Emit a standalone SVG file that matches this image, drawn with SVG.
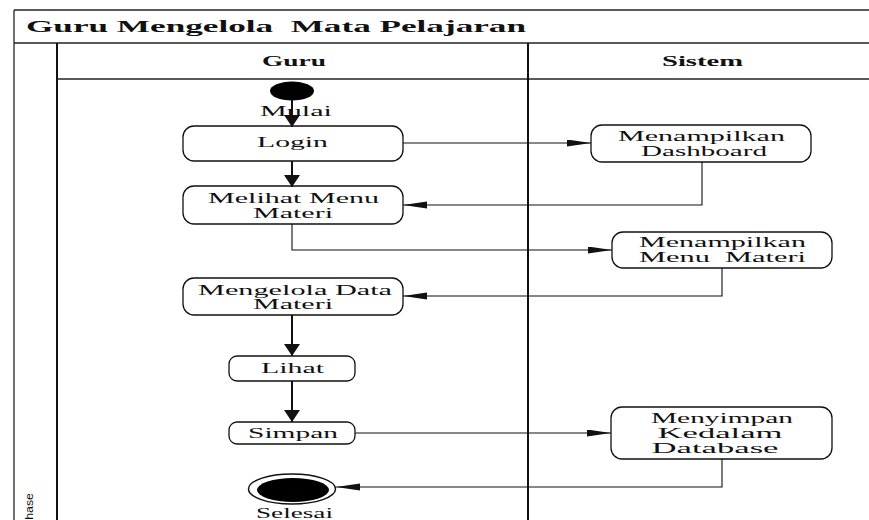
<svg xmlns="http://www.w3.org/2000/svg" width="869" height="520" viewBox="0 0 869 520">
<style>
.frame{fill:none;stroke:#222;stroke-width:1.3}
.div{fill:none;stroke:#111;stroke-width:2}
.box{fill:#fff;stroke:#111;stroke-width:1.3}
.t{font-family:"Liberation Serif",serif;font-size:15px;fill:#111;text-anchor:middle;white-space:pre}
.h{font-family:"Liberation Serif",serif;font-weight:bold;fill:#111;white-space:pre}
.thin{fill:none;stroke:#111;stroke-width:1.1;marker-end:url(#thinArrow)}
.bold{fill:none;stroke:#111;stroke-width:2;marker-end:url(#boldArrow)}
</style>
<defs>
<marker id="thinArrow" markerUnits="userSpaceOnUse" markerWidth="26" markerHeight="8" refX="24" refY="3.5" orient="auto">
<path d="M0,0 L24,3.5 L0,7 z" fill="#111"/>
</marker>
<marker id="boldArrow" markerUnits="userSpaceOnUse" markerWidth="14" markerHeight="18" refX="12" refY="8" orient="auto">
<path d="M0,0 L12,8 L0,16 z" fill="#111"/>
</marker>
</defs>
<rect width="869" height="520" fill="#fff"/>
<g id="frame">
<line class="frame" x1="14" y1="10" x2="869" y2="10"/>
<line class="frame" x1="14" y1="10" x2="14" y2="520"/>
<line class="frame" x1="14" y1="43" x2="869" y2="43"/>
<line class="div" x1="57" y1="43" x2="57" y2="520"/>
<line class="frame" x1="57" y1="79" x2="869" y2="79"/>
<line class="div" x1="528" y1="43" x2="528" y2="520"/>
<text class="h" x="26" y="32" font-size="17" textLength="500" lengthAdjust="spacingAndGlyphs">Guru Mengelola  Mata Pelajaran</text>
<text class="h" x="262" y="66" font-size="14" textLength="64" lengthAdjust="spacingAndGlyphs">Guru</text>
<text class="h" x="662" y="66" font-size="14" textLength="81" lengthAdjust="spacingAndGlyphs">Sistem</text>
<text transform="translate(33,528) rotate(-90)" font-family="Liberation Sans,sans-serif" font-size="11" fill="#111" textLength="35" lengthAdjust="spacingAndGlyphs">Phase</text>
</g>
<g id="start">
<ellipse cx="292" cy="91" rx="22" ry="9.5" fill="#000"/>
<text class="t" x="296" y="116" textLength="72" lengthAdjust="spacingAndGlyphs">Mulai</text>
</g>
<g id="login">
<rect class="box" x="183" y="126" width="220" height="35" rx="11"/>
<text class="t" x="292.5" y="147" textLength="71" lengthAdjust="spacingAndGlyphs">Login</text>
</g>
<g id="melihat">
<rect class="box" x="183" y="186" width="220" height="38" rx="11"/>
<text class="t" x="293.5" y="203" textLength="171" lengthAdjust="spacingAndGlyphs">Melihat Menu</text>
<text class="t" x="293" y="218" textLength="80" lengthAdjust="spacingAndGlyphs">Materi</text>
</g>
<g id="dashboard">
<rect class="box" x="591" y="125" width="220" height="37" rx="11"/>
<text class="t" x="701.5" y="141" textLength="167" lengthAdjust="spacingAndGlyphs">Menampilkan</text>
<text class="t" x="704" y="156" textLength="126" lengthAdjust="spacingAndGlyphs">Dashboard</text>
</g>
<g id="menumateri">
<rect class="box" x="612" y="232" width="220" height="36" rx="11"/>
<text class="t" x="722.5" y="247" textLength="167" lengthAdjust="spacingAndGlyphs">Menampilkan</text>
<text class="t" x="722.5" y="262" textLength="167" lengthAdjust="spacingAndGlyphs">Menu  Materi</text>
</g>
<g id="mengelola">
<rect class="box" x="183" y="278" width="220" height="37" rx="11"/>
<text class="t" x="295" y="295" textLength="194" lengthAdjust="spacingAndGlyphs">Mengelola Data</text>
<text class="t" x="293" y="309" textLength="80" lengthAdjust="spacingAndGlyphs">Materi</text>
</g>
<g id="lihat">
<rect class="box" x="229" y="356" width="126" height="25" rx="8"/>
<text class="t" x="292.5" y="373" textLength="63" lengthAdjust="spacingAndGlyphs">Lihat</text>
</g>
<g id="simpan">
<rect class="box" x="229" y="422" width="126" height="22" rx="8"/>
<text class="t" x="293" y="438" textLength="90" lengthAdjust="spacingAndGlyphs">Simpan</text>
</g>
<g id="menyimpan">
<rect class="box" x="611" y="407" width="221" height="52" rx="11"/>
<text class="t" x="722" y="423" textLength="142" lengthAdjust="spacingAndGlyphs">Menyimpan</text>
<text class="t" x="720" y="438" textLength="125" lengthAdjust="spacingAndGlyphs">Kedalam</text>
<text class="t" x="715" y="453" textLength="127" lengthAdjust="spacingAndGlyphs">Database</text>
</g>
<g id="selesai">
<ellipse cx="292" cy="489" rx="43.5" ry="15" fill="#fff" stroke="#111" stroke-width="1.5"/>
<ellipse cx="293" cy="490" rx="36" ry="12" fill="#000"/>
<text class="t" x="294.5" y="518" textLength="77" lengthAdjust="spacingAndGlyphs">Selesai</text>
</g>
<g id="connectors">
<line class="bold" x1="292" y1="100" x2="292" y2="127"/>
<line class="bold" x1="292" y1="161" x2="292" y2="187"/>
<line class="thin" x1="403" y1="143" x2="591" y2="143"/>
<polyline class="thin" points="702,162 702,205 403,205"/>
<polyline class="thin" points="292,224 292,250 612,250"/>
<polyline class="thin" points="722,268 722,296 403,296"/>
<line class="bold" x1="292" y1="315" x2="292" y2="356"/>
<line class="bold" x1="292" y1="381" x2="292" y2="422"/>
<line class="thin" x1="355" y1="433" x2="611" y2="433"/>
<polyline class="thin" points="722,459 722,487 336,487"/>
</g>
</svg>
